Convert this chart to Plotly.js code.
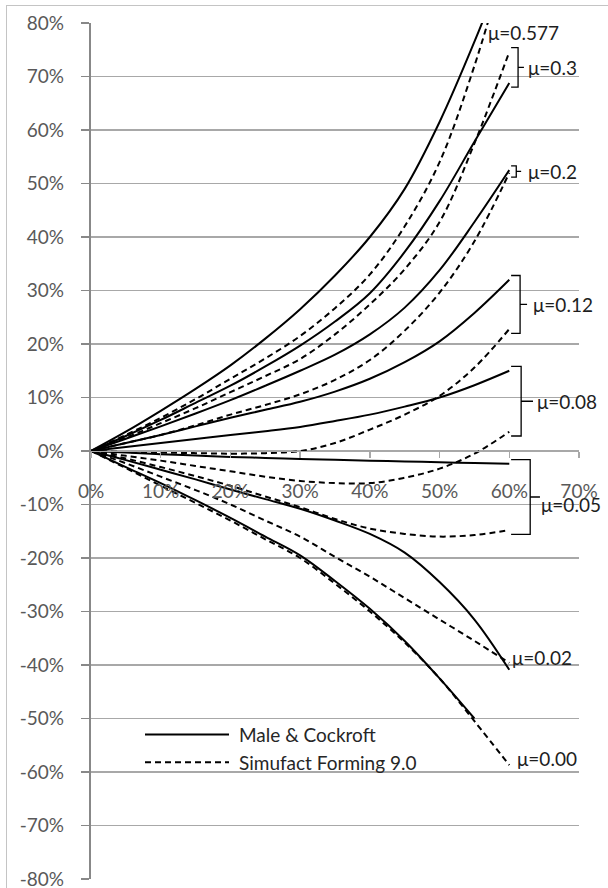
<!DOCTYPE html>
<html><head><meta charset="utf-8">
<script src="https://cdn.plot.ly/plotly-3.0.1.min.js"></script>
<style>
html,body{margin:0;padding:0;background:#fff;width:608px;height:888px;overflow:hidden;}
#frame{position:absolute;left:6px;top:5px;width:700px;height:1000px;border:1.5px solid #c4c4c4;}
#chart{position:absolute;left:0;top:0;width:608px;height:888px;}
</style></head><body>
<div id="frame"></div>
<div id="chart"></div>
<script>
// x: height reduction (%), y: change of internal diameter (%)
const xGrid = [0,5,10,15,20,25,30,35,40,45,50,55,60];

const mu0577_solid_y  = [0,3.6,7.5,11.6,16,21,26.5,32.8,40,49,61.5,76.5,93];
const mu0577_dashed_y = [0,3,6.2,9.7,13.5,17.3,21.5,26.7,33,42,54,72,94];
const mu03_solid_y    = [0,2.8,5.8,9,12.2,15.8,19.7,24.2,29.5,37.2,46.7,57.8,68.8];
const mu03_dashed_y   = [0,2.5,5.2,8,11,14,17.2,21.8,27.4,34,42.8,57.5,74.6];
const mu02_solid_y    = [0,2.3,4.6,7,9.5,12.2,15,18,21.8,26.8,33.8,42.8,52.5];
const mu02_dashed_y   = [0,1.5,3,4.8,6.8,8.6,10.6,13.3,17,22.5,29.6,39.2,52];
const mu012_solid_y   = [0,1.5,3,4.6,6.2,7.7,9.2,11.1,13.5,16.6,20.5,25.8,32];
const mu012_dashed_y  = [0,-0.2,-0.3,-0.4,-0.5,-0.4,0,1.5,4,6.8,10.3,15.6,22.8];
const mu008_solid_y   = [0,0.75,1.5,2.25,3,3.7,4.5,5.6,6.8,8.3,10,12.3,15];
const mu008_dashed_y  = [0,-0.9,-1.8,-2.8,-3.8,-4.8,-5.6,-6,-6,-5,-3.3,-0.5,3.6];
const mu005_solid_y   = [0,-0.3,-0.6,-0.85,-1.1,-1.3,-1.5,-1.65,-1.8,-1.95,-2.1,-2.25,-2.4];
const mu005_dashed_y  = [0,-1.4,-3,-4.7,-6.5,-8.5,-10.5,-12.7,-14.5,-15.5,-16,-15.7,-14.8];
const mu002_solid_y   = [0,-1.7,-3.5,-5.3,-7.2,-9,-10.8,-13,-15.5,-19,-24.5,-31.5,-40.9];
const mu002_dashed_y  = [0,-2.3,-4.8,-7.3,-10,-13,-16,-19.8,-23.5,-27.5,-31.5,-35.5,-39.6];
const mu000_solid_y   = [0,-3,-6,-9.2,-12.5,-16,-19.5,-24.3,-29.5,-35.5,-42.5,-50];   // ends at 55 %
const mu000_dashed_y  = [0,-3.2,-6.5,-9.7,-13,-16.5,-20,-24.8,-30,-35.8,-42.5,-50.5,-58.7];

const seriesNames = ['Male & Cockroft', 'Simufact Forming 9.0'];
const xTickVals = [0,10,20,30,40,50,60,70];
const xTickText = ['0%','10%','20%','30%','40%','50%','60%','70%'];
const yTickVals = [-80,-70,-60,-50,-40,-30,-20,-10,0,10,20,30,40,50,60,70,80];
const yTickText = ['-80%','-70%','-60%','-50%','-40%','-30%','-20%','-10%','0%','10%','20%','30%','40%','50%','60%','70%','80%'];

const FONT = 'Lato, "Open Sans", sans-serif';
const solidSets  = [mu0577_solid_y, mu03_solid_y, mu02_solid_y, mu012_solid_y, mu008_solid_y, mu005_solid_y, mu002_solid_y, mu000_solid_y];
const dashedSets = [mu0577_dashed_y, mu03_dashed_y, mu02_dashed_y, mu012_dashed_y, mu008_dashed_y, mu005_dashed_y, mu002_dashed_y, mu000_dashed_y];

const traces = [];
solidSets.forEach((y,i)=>traces.push({type:'scatter',mode:'lines',x:xGrid.slice(0,y.length),y:y,name:seriesNames[0],
  showlegend:i===0,hoverinfo:'skip',line:{color:'#000',width:2,shape:'spline',smoothing:1}}));
dashedSets.forEach((y,i)=>traces.push({type:'scatter',mode:'lines',x:xGrid.slice(0,y.length),y:y,name:seriesNames[1],
  showlegend:i===0,hoverinfo:'skip',line:{color:'#000',width:2,dash:'6px,4px',shape:'spline',smoothing:1}}));

const last = a => a[a.length-1];
const LABEL_FONT = {family:FONT,size:19,color:'#1e1e1e'};
const brackets = [
  {text:'μ=0.3',  s:mu03_solid_y,  d:mu03_dashed_y,  arm:61.26, tick:62.1, tx:62.5, ys:0},
  {text:'μ=0.2',  s:mu02_solid_y,  d:mu02_dashed_y,  arm:61.0,  tick:61.7, tx:62.5, ys:0},
  {text:'μ=0.12', s:mu012_solid_y, d:mu012_dashed_y, arm:61.55, tick:62.55, tx:63.2, ys:0},
  {text:'μ=0.08', s:mu008_solid_y, d:mu008_dashed_y, arm:61.7,  tick:63.4, tx:63.8, ys:0},
  {text:'μ=0.05', s:mu005_solid_y, d:mu005_dashed_y, arm:63.0,  tick:64.4, tx:64.4, ys:-7}
];
const shapes = [], annotations = [];
brackets.forEach(b=>{
  const top = Math.max(last(b.s), last(b.d)) + 0.8;
  const bot = Math.min(last(b.s), last(b.d)) - 0.8;
  const mid = (top+bot)/2, x0 = 60.26;
  shapes.push({type:'path',xref:'x',yref:'y',line:{color:'#000',width:1.3},
    path:`M${x0},${top} L${b.arm},${top} L${b.arm},${bot} L${x0},${bot} M${b.arm},${mid} L${b.tick},${mid}`});
  annotations.push({x:b.tx,y:mid,xref:'x',yref:'y',text:b.text,showarrow:false,xanchor:'left',yanchor:'middle',
    yshift:b.ys,font:LABEL_FONT,borderpad:0});
});
annotations.push({x:56.8,y:78.3,xref:'x',yref:'y',text:'μ=0.577',showarrow:false,xanchor:'left',yanchor:'middle',font:LABEL_FONT,borderpad:0});
annotations.push({x:60.3,y:last(mu002_dashed_y),xref:'x',yref:'y',text:'μ=0.02',showarrow:false,xanchor:'left',yanchor:'middle',yshift:5,font:LABEL_FONT,borderpad:0});
annotations.push({x:60.9,y:last(mu000_dashed_y),xref:'x',yref:'y',text:'μ=0.00',showarrow:false,xanchor:'left',yanchor:'middle',yshift:7,font:LABEL_FONT,borderpad:0});

const layout = {
  width:608,height:888,
  margin:{l:91,r:29,t:23,b:9,pad:0},
  paper_bgcolor:'rgba(0,0,0,0)',plot_bgcolor:'rgba(0,0,0,0)',
  font:{family:FONT,size:19,color:'#595959'},
  showlegend:true,
  legend:{x:(140-91)/488,xanchor:'left',y:(879.3-716)/856,yanchor:'top',bgcolor:'rgba(0,0,0,0)',
    font:{family:FONT,size:19,color:'#262626'},itemwidth:89,tracegroupgap:0},
  xaxis:{range:[0,70],tickvals:xTickVals,ticktext:xTickText,anchor:'free',position:0.5,
    showline:true,linecolor:'#a8a8a8',linewidth:1.3,ticks:'outside',ticklen:6,tickcolor:'#a8a8a8',tickwidth:1.3,
    showgrid:false,zeroline:false,ticklabelstandoff:17,automargin:false,fixedrange:true,ticklabeloverflow:'allow',
    tickfont:{family:FONT,size:19,color:'#595959'}},
  yaxis:{range:[-80,80],tickvals:yTickVals,ticktext:yTickText,
    showline:true,linecolor:'#888',linewidth:2.2,ticks:'outside',ticklen:8,tickcolor:'#888',tickwidth:1.5,
    showgrid:true,gridcolor:'#a8a8a8',gridwidth:1.3,zeroline:false,ticklabelstandoff:13,automargin:false,fixedrange:true,
    ticklabeloverflow:'allow',
    tickfont:{family:FONT,size:19,color:'#595959'}},
  shapes:shapes,annotations:annotations
};
Plotly.newPlot('chart',traces,layout,{staticPlot:true,displayModeBar:false}).then(()=>{
  document.querySelectorAll('#chart .legend .js-line').forEach(p=>p.setAttribute('d','M5,0h84'));
});
</script></body></html>
